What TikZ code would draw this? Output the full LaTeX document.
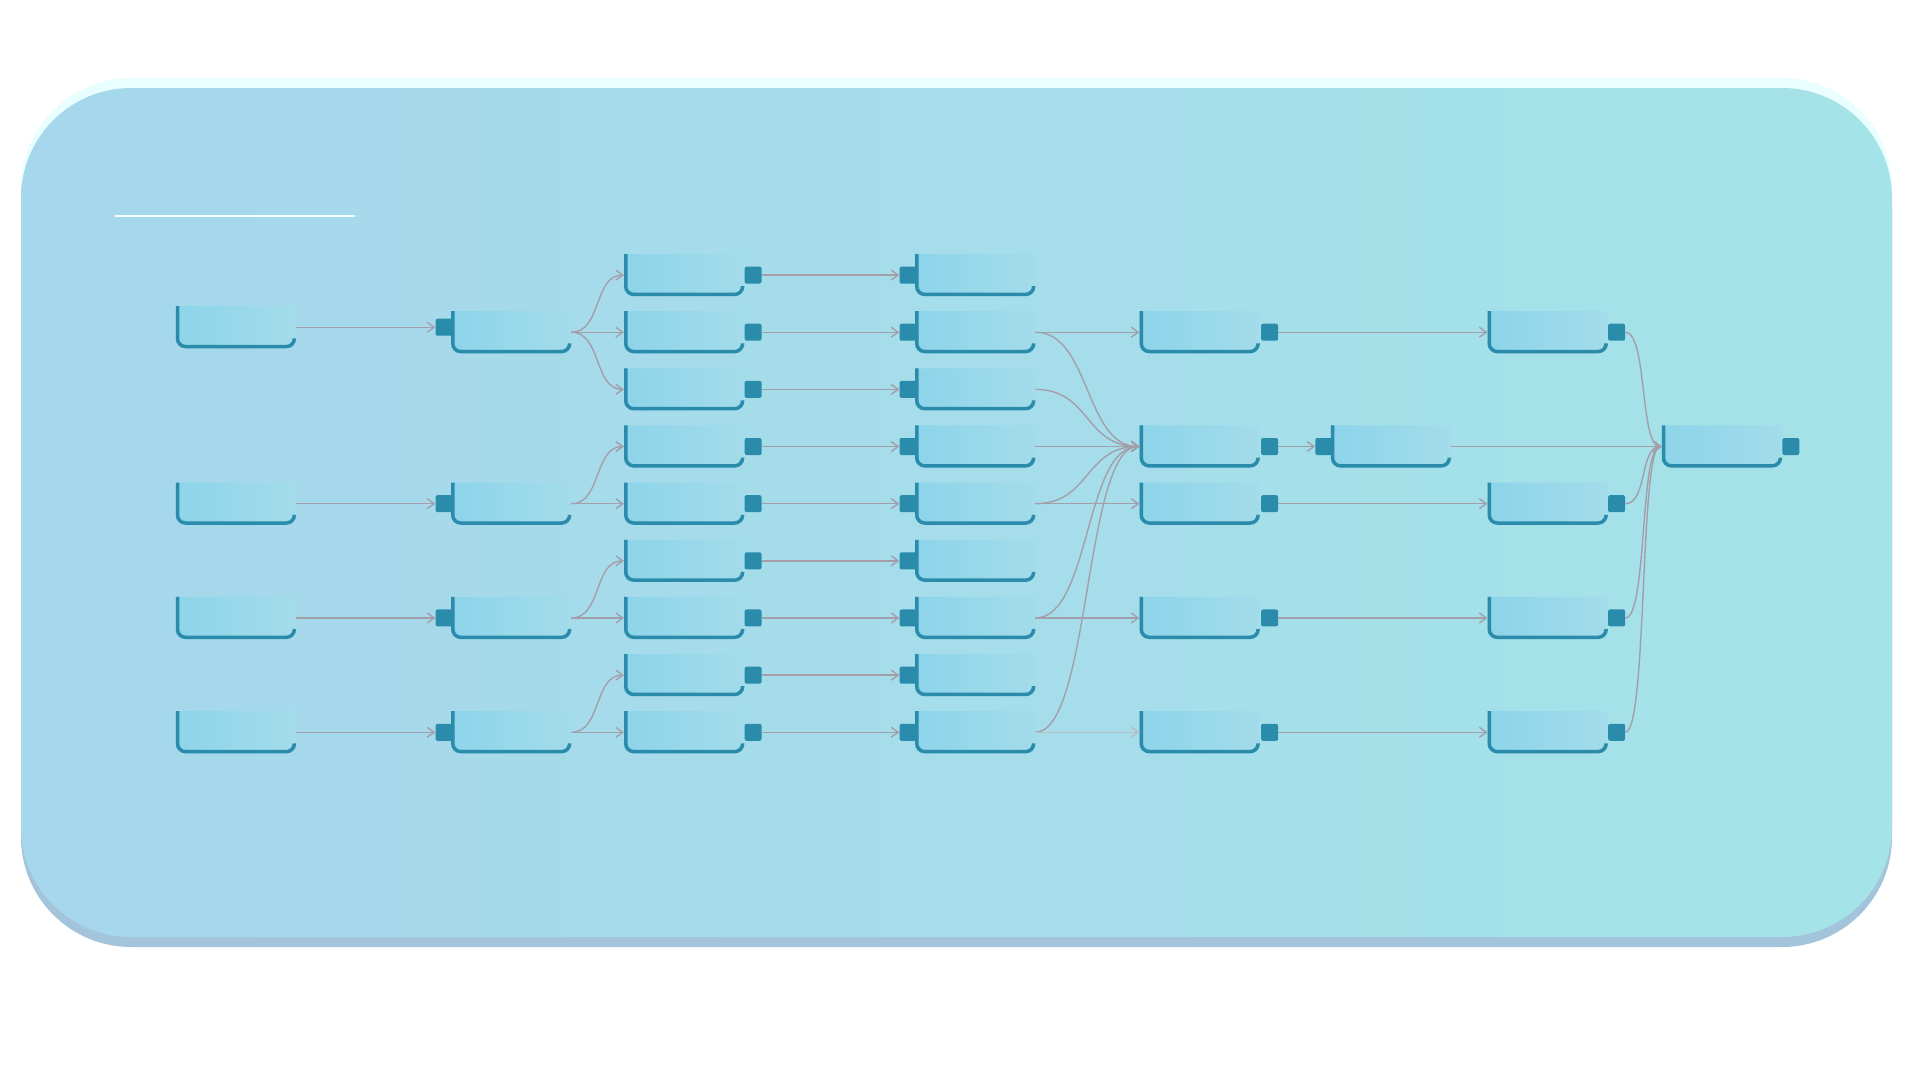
\documentclass[tikz,border=0pt]{standalone}
\usepackage{xcolor}
\usepackage{tikz}
\usetikzlibrary{arrows.meta}
\definecolor{bgL}{HTML}{A6D7EC}
\definecolor{bgR}{HTML}{A4E3E8}
\definecolor{bgTop}{HTML}{E9FEFE}
\definecolor{bgShadow}{HTML}{A4C4DC}
\definecolor{nodeL}{HTML}{8DD4EA}
\definecolor{nodeR}{HTML}{A3DCEA}
\definecolor{rimC}{HTML}{2A8BAA}
\definecolor{wireC}{HTML}{A39FAA}
\definecolor{wireF}{HTML}{B9BDC6}
\tikzset{
    flow_node/.style = {rectangle, inner sep=0pt, anchor=north west, minimum width=120pt, minimum height=41.75pt},
    flow_fill/.style = {left color=nodeL, right color=nodeR, rounded corners=9.75pt},
    flow_rim/.style = {draw=rimC, line width=3.5pt, rounded corners=8pt},
    out_port/.style = {rectangle, fill=rimC, rounded corners=2pt, minimum size=17pt, inner sep=0pt, anchor=west},
    in_port/.style = {out_port, anchor=east},
    wire/.style = {draw=wireC, line width=1.4pt, ->},
    faint_wire/.style = {wire, draw=wireF}
}
\begin{document}
\begin{tikzpicture}[x=1pt, y=-1pt, >={Straight Barb[length=7pt,width=10pt]}]
    \useasboundingbox (0,0) rectangle (1920,1080);
    \fill[white] (0,0) rectangle (1920,1080);
    % panel
    \fill[bgShadow, rounded corners=110pt] (21,98) rectangle (1892,947);
    \fill[bgTop, rounded corners=110pt] (21,78) rectangle (1892,927);
    \shade[left color=bgL, right color=bgR, rounded corners=110pt] (21,88) rectangle (1892,937);
    \draw[white!88!bgL, line width=1.5pt] (115,216) -- (355,216);

    % nodes
    \node[flow_node] (a1) at (175.75,306.15) {};
    \node[flow_node] (a2) at (175.75,482.6) {};
    \node[flow_node] (a3) at (175.75,596.9) {};
    \node[flow_node] (a4) at (175.75,711.2) {};

    \node[flow_node] (b1) at (451,311.15) {};
    \node[flow_node] (b2) at (451,482.6) {};
    \node[flow_node] (b3) at (451,596.9) {};
    \node[flow_node] (b4) at (451,711.2) {};

    \node[flow_node] (c0) at (624,254) {};
    \node[flow_node] (c1) at (624,311.15) {};
    \node[flow_node] (c2) at (624,368.3) {};
    \node[flow_node] (c3) at (624,425.45) {};
    \node[flow_node] (c4) at (624,482.6) {};
    \node[flow_node] (c5) at (624,539.75) {};
    \node[flow_node] (c6) at (624,596.9) {};
    \node[flow_node] (c7) at (624,654.05) {};
    \node[flow_node] (c8) at (624,711.2) {};

    \node[flow_node] (d0) at (915,254) {};
    \node[flow_node] (d1) at (915,311.15) {};
    \node[flow_node] (d2) at (915,368.3) {};
    \node[flow_node] (d3) at (915,425.45) {};
    \node[flow_node] (d4) at (915,482.6) {};
    \node[flow_node] (d5) at (915,539.75) {};
    \node[flow_node] (d6) at (915,596.9) {};
    \node[flow_node] (d7) at (915,654.05) {};
    \node[flow_node] (d8) at (915,711.2) {};

    \node[flow_node] (e1) at (1139.5,311.15) {};
    \node[flow_node] (e3) at (1139.5,425.45) {};
    \node[flow_node] (e4) at (1139.5,482.6) {};
    \node[flow_node] (e6) at (1139.5,596.9) {};
    \node[flow_node] (e8) at (1139.5,711.2) {};

    \node[flow_node] (f3) at (1330.75,425.45) {};

    \node[flow_node] (g1) at (1487.5,311.15) {};
    \node[flow_node] (g4) at (1487.5,482.6) {};
    \node[flow_node] (g6) at (1487.5,596.9) {};
    \node[flow_node] (g8) at (1487.5,711.2) {};

    \node[flow_node] (h3) at (1661.75,425.45) {};

    % node bodies: fill, then rim on left, bottom and bottom-right corner
    \foreach \n in {a1,a2,a3,a4,b1,b2,b3,b4,c0,c1,c2,c3,c4,c5,c6,c7,c8,
                    d0,d1,d2,d3,d4,d5,d6,d7,d8,e1,e3,e4,e6,e8,f3,g1,g4,g6,g8,h3} {
        \shade[flow_fill] (\n.north west) -- (\n.south west) -- (\n.south east) -- (\n.north east);
        \draw[flow_rim] ([xshift=1.75pt]\n.north west)
            -- ([shift={(1.75pt,1.75pt)}]\n.south west)
            -- ([shift={(-1.75pt,1.75pt)}]\n.south east)
            -- ([shift={(-1.75pt,10pt)}]\n.south east);
    }

    % ports
    \node[in_port] (b1i) at ([shift={(1.75pt,5pt)}]b1.west) {};
    \node[in_port] (b2i) at ([xshift=1.75pt]b2.west) {};
    \node[in_port] (b3i) at ([xshift=1.75pt]b3.west) {};
    \node[in_port] (b4i) at ([xshift=1.75pt]b4.west) {};

    \node[out_port] (c0o) at (c0.east) {};
    \node[out_port] (c1o) at (c1.east) {};
    \node[out_port] (c2o) at (c2.east) {};
    \node[out_port] (c3o) at (c3.east) {};
    \node[out_port] (c4o) at (c4.east) {};
    \node[out_port] (c5o) at (c5.east) {};
    \node[out_port] (c6o) at (c6.east) {};
    \node[out_port] (c7o) at (c7.east) {};
    \node[out_port] (c8o) at (c8.east) {};

    \node[in_port] (d0i) at ([xshift=1.75pt]d0.west) {};
    \node[in_port] (d1i) at ([xshift=1.75pt]d1.west) {};
    \node[in_port] (d2i) at ([xshift=1.75pt]d2.west) {};
    \node[in_port] (d3i) at ([xshift=1.75pt]d3.west) {};
    \node[in_port] (d4i) at ([xshift=1.75pt]d4.west) {};
    \node[in_port] (d5i) at ([xshift=1.75pt]d5.west) {};
    \node[in_port] (d6i) at ([xshift=1.75pt]d6.west) {};
    \node[in_port] (d7i) at ([xshift=1.75pt]d7.west) {};
    \node[in_port] (d8i) at ([xshift=1.75pt]d8.west) {};

    \node[out_port] (e1o) at ([xshift=1pt]e1.east) {};
    \node[out_port] (e3o) at ([xshift=1pt]e3.east) {};
    \node[out_port] (e4o) at ([xshift=1pt]e4.east) {};
    \node[out_port] (e6o) at ([xshift=1pt]e6.east) {};
    \node[out_port] (e8o) at ([xshift=1pt]e8.east) {};

    \node[in_port] (f3i) at ([xshift=1.75pt]f3.west) {};

    \node[out_port] (g1o) at (g1.east) {};
    \node[out_port] (g4o) at (g4.east) {};
    \node[out_port] (g6o) at (g6.east) {};
    \node[out_port] (g8o) at (g8.east) {};

    \node[out_port] (h3o) at (h3.east) {};

    % wires
    \draw[wire] (a1.east) -- (b1i.west);
    \draw[wire] (a2.east) -- (b2i.west);
    \draw[wire] (a3.east) -- (b3i.west);
    \draw[wire] (a4.east) -- (b4i.west);

    \draw[wire] (b1.east) to[out=0,in=180] (c0.west);
    \draw[wire] (b1.east) -- (c1.west);
    \draw[wire] (b1.east) to[out=0,in=180] (c2.west);
    \draw[wire] (b2.east) to[out=0,in=180] (c3.west);
    \draw[wire] (b2.east) -- (c4.west);
    \draw[wire] (b3.east) to[out=0,in=180] (c5.west);
    \draw[wire] (b3.east) -- (c6.west);
    \draw[wire] (b4.east) to[out=0,in=180] (c7.west);
    \draw[wire] (b4.east) -- (c8.west);

    \draw[wire] (c0o.east) -- (d0i.west);
    \draw[wire] (c1o.east) -- (d1i.west);
    \draw[wire] (c2o.east) -- (d2i.west);
    \draw[wire] (c3o.east) -- (d3i.west);
    \draw[wire] (c4o.east) -- (d4i.west);
    \draw[wire] (c5o.east) -- (d5i.west);
    \draw[wire] (c6o.east) -- (d6i.west);
    \draw[wire] (c7o.east) -- (d7i.west);
    \draw[wire] (c8o.east) -- (d8i.west);

    \draw[wire] (d1.east) -- (e1.west);
    \draw[wire] (d1.east) .. controls +(55,0) and +(-55,0) .. (e3.west);
    \draw[wire] (d2.east) .. controls +(55,0) and +(-55,0) .. (e3.west);
    \draw[wire] (d3.east) -- (e3.west);
    \draw[wire] (d4.east) .. controls +(55,0) and +(-55,0) .. (e3.west);
    \draw[wire] (d4.east) -- (e4.west);
    \draw[wire] (d6.east) .. controls +(55,0) and +(-55,0) .. (e3.west);
    \draw[wire] (d6.east) -- (e6.west);
    \draw[wire] (d8.east) .. controls +(55,0) and +(-55,0) .. (e3.west);
    \draw[faint_wire] (d8.east) -- (e8.west);

    \draw[wire] (e3o.east) -- (f3i.west);
    \draw[wire] (e1o.east) -- (g1.west);
    \draw[wire] (e4o.east) -- (g4.west);
    \draw[wire] (e6o.east) -- (g6.west);
    \draw[wire] (e8o.east) -- (g8.west);

    \draw[wire] (f3.east) -- (h3.west);
    \draw[wire] (g1o.east) .. controls +(22,0) and +(-22,0) .. (h3.west);
    \draw[wire] (g4o.east) .. controls +(22,0) and +(-22,0) .. (h3.west);
    \draw[wire] (g6o.east) .. controls +(22,0) and +(-22,0) .. (h3.west);
    \draw[wire] (g8o.east) .. controls +(22,0) and +(-22,0) .. (h3.west);
\end{tikzpicture}
\end{document}
